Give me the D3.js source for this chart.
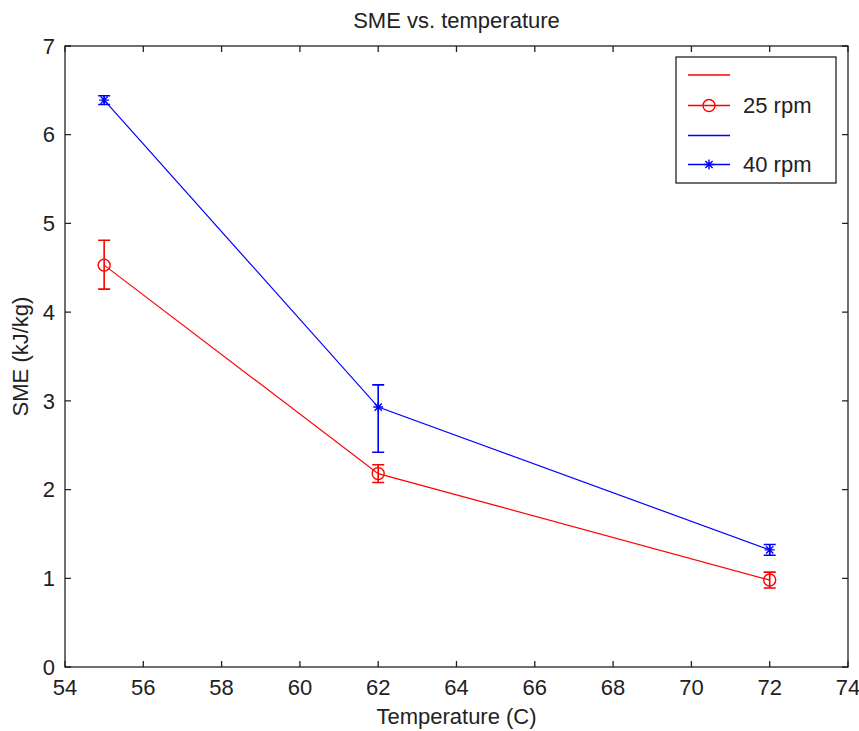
<!DOCTYPE html>
<html>
<head>
<meta charset="utf-8">
<script src="https://d3js.org/d3.v7.min.js"></script>
<style>
  body { margin: 0; background: #fff; }
  text { font-family: "Liberation Sans", Arial, sans-serif; fill: #222; }
</style>
</head>
<body>
<svg id="chart"></svg>
<script>
// data
var temps = [55, 62, 72];
var sme25 = [4.53, 2.18, 0.98],
    lo25 = [0.27, 0.10, 0.09],
    hi25 = [0.28, 0.10, 0.09];
var sme40 = [6.39, 2.93, 1.32],
    lo40 = [0.05, 0.51, 0.06],
    hi40 = [0.05, 0.25, 0.06];
var xTicks = [54, 56, 58, 60, 62, 64, 66, 68, 70, 72, 74],
    yTicks = [0, 1, 2, 3, 4, 5, 6, 7];

var W = 859, H = 731;
var margin = {top: 46, right: 11, bottom: 64, left: 65},
    width = W - margin.left - margin.right,
    height = H - margin.top - margin.bottom;

var x = d3.scaleLinear().domain([54, 74]).range([0, width]),
    y = d3.scaleLinear().domain([0, 7]).range([height, 0]);

var fs = "22px";

var svg = d3.select("#chart")
    .attr("width", W)
    .attr("height", H);

var g = svg.append("g")
    .attr("transform", "translate(" + margin.left + "," + margin.top + ")");

// frame
g.append("rect")
    .attr("width", width)
    .attr("height", height)
    .attr("fill", "none")
    .attr("stroke", "#222")
    .attr("stroke-width", 1.3);

// ticks, inward, mirrored on top/right
var tickLen = 6;
g.selectAll(".xt").data(xTicks).enter().append("path")
    .attr("d", function(d) {
      var px = x(d);
      return "M" + px + "," + height + "v" + (-tickLen) + "M" + px + ",0v" + tickLen;
    })
    .attr("stroke", "#222").attr("stroke-width", 1.3);
g.selectAll(".yt").data(yTicks).enter().append("path")
    .attr("d", function(d) {
      var py = y(d);
      return "M0," + py + "h" + tickLen + "M" + width + "," + py + "h" + (-tickLen);
    })
    .attr("stroke", "#222").attr("stroke-width", 1.3);

g.selectAll(".xl").data(xTicks).enter().append("text")
    .attr("x", function(d) { return x(d); })
    .attr("y", height + 28)
    .attr("text-anchor", "middle")
    .style("font-size", fs)
    .text(String);
g.selectAll(".yl").data(yTicks).enter().append("text")
    .attr("x", -10)
    .attr("y", function(d) { return y(d); })
    .attr("dy", ".35em")
    .attr("text-anchor", "end")
    .style("font-size", fs)
    .text(String);

// titles
svg.append("text")
    .attr("x", margin.left + width / 2)
    .attr("y", 28)
    .attr("text-anchor", "middle")
    .style("font-size", fs)
    .text("SME vs. temperature");
svg.append("text")
    .attr("x", margin.left + width / 2)
    .attr("y", 724)
    .attr("text-anchor", "middle")
    .style("font-size", fs)
    .text("Temperature (C)");
svg.append("text")
    .attr("transform", "translate(28," + (margin.top + height / 2) + ") rotate(-90)")
    .attr("text-anchor", "middle")
    .style("font-size", fs)
    .text("SME (kJ/kg)");

var line = d3.line()
    .x(function(d) { return x(d[0]); })
    .y(function(d) { return y(d[1]); });

function drawSeries(vals, lo, hi, color, marker) {
  var pts = temps.map(function(t, i) { return [t, vals[i], lo[i], hi[i]]; });
  g.append("path")
      .datum(pts)
      .attr("d", line)
      .attr("fill", "none")
      .attr("stroke", color)
      .attr("stroke-width", 1.2);
  var cap = 6;
  pts.forEach(function(p) {
    var px = x(p[0]), y0 = y(p[1] - p[2]), y1 = y(p[1] + p[3]);
    g.append("path")
        .attr("d", "M" + px + "," + y0 + "V" + y1 +
              "M" + (px - cap) + "," + y0 + "h" + (2 * cap) +
              "M" + (px - cap) + "," + y1 + "h" + (2 * cap))
        .attr("stroke", color)
        .attr("stroke-width", 1.6)
        .attr("fill", "none");
    marker(px, y(p[1]));
  });
}

function circleMark(parent, color) {
  return function(px, py) {
    parent.append("circle")
        .attr("cx", px).attr("cy", py).attr("r", 6)
        .attr("fill", "none").attr("stroke", color).attr("stroke-width", 1.4);
  };
}
function starMark(parent, color) {
  return function(px, py) {
    var s = 5, d = s * 0.72;
    parent.append("path")
        .attr("d", "M" + (px - s) + "," + py + "h" + (2 * s) +
              "M" + px + "," + (py - s) + "v" + (2 * s) +
              "M" + (px - d) + "," + (py - d) + "l" + (2 * d) + "," + (2 * d) +
              "M" + (px - d) + "," + (py + d) + "l" + (2 * d) + "," + (-2 * d))
        .attr("stroke", color).attr("stroke-width", 1.4).attr("fill", "none");
  };
}

drawSeries(sme25, lo25, hi25, "#ff0000", circleMark(g, "#ff0000"));
drawSeries(sme40, lo40, hi40, "#0000ff", starMark(g, "#0000ff"));

// legend
var legend = svg.append("g").attr("transform", "translate(676,57)");
legend.append("rect")
    .attr("width", 160).attr("height", 126)
    .attr("fill", "#fff").attr("stroke", "#222").attr("stroke-width", 1.3);
var legItems = [
  {color: "#ff0000", label: "", mark: null},
  {color: "#ff0000", label: "25 rpm", mark: "o"},
  {color: "#0000ff", label: "", mark: null},
  {color: "#0000ff", label: "40 rpm", mark: "*"}
];
var legY = [18, 48.5, 78.5, 107.5];
legItems.forEach(function(it, i) {
  var ly = legY[i];
  legend.append("line")
      .attr("x1", 12).attr("x2", 54).attr("y1", ly).attr("y2", ly)
      .attr("stroke", it.color).attr("stroke-width", 1.3);
  if (it.mark === "o") circleMark(legend, it.color)(33, ly);
  if (it.mark === "*") starMark(legend, it.color)(33, ly);
  if (it.label) legend.append("text")
      .attr("x", 67).attr("y", ly).attr("dy", ".36em")
      .style("font-size", fs)
      .text(it.label);
});
</script>
</body>
</html>
